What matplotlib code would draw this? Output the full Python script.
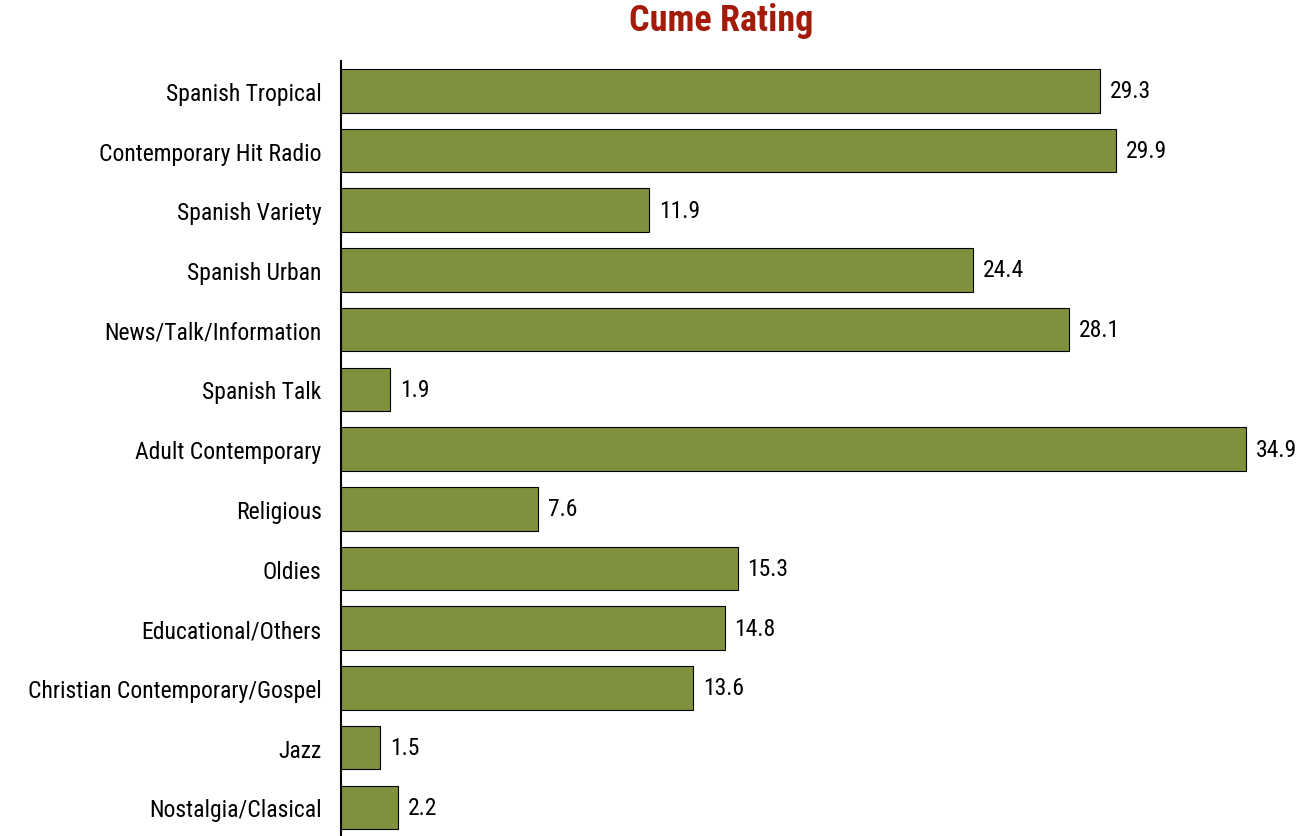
import numpy as np
import matplotlib.pyplot as plt

# data
categories = ["Spanish Tropical", "Contemporary Hit Radio", "Spanish Variety", "Spanish Urban",
              "News/Talk/Information", "Spanish Talk", "Adult Contemporary", "Religious",
              "Oldies", "Educational/Others", "Christian Contemporary/Gospel", "Jazz",
              "Nostalgia/Clasical"]
values = [29.3, 29.9, 11.9, 24.4, 28.1, 1.9, 34.9, 7.6, 15.3, 14.8, 13.6, 1.5, 2.2]

plt.rcParams['font.family'] = ['Roboto Condensed', 'Liberation Sans', 'DejaVu Sans']

fig = plt.figure(figsize=(13.12, 8.37), dpi=100)
ax = fig.add_axes([341/1312, 0, (1300-341)/1312, (837-62)/837])

y = np.arange(len(categories))
ax.barh(y, values, height=0.73, color='#7F913C', edgecolor='black', linewidth=0.8)
for yi, v in zip(y, values):
    ax.text(v + 0.38, yi, f"{v:.1f}", va='center', ha='left', fontsize=17)

ax.set_yticks(y)
ax.set_yticklabels(categories, fontsize=17)
ax.tick_params(axis='y', length=0, pad=14)
ax.set_xticks([])
ax.set_xlim(0, 37.0)
ax.set_ylim(len(categories) - 0.52, -0.50)
for s in ['top', 'right', 'bottom']:
    ax.spines[s].set_visible(False)
ax.spines['left'].set_linewidth(1.5)

fig.text(721/1312, 1 - 21/837, "Cume Rating", ha='center', va='center',
         fontsize=26, fontweight='bold', color='#A31C0A')

fig.savefig('out.png', dpi=100)
